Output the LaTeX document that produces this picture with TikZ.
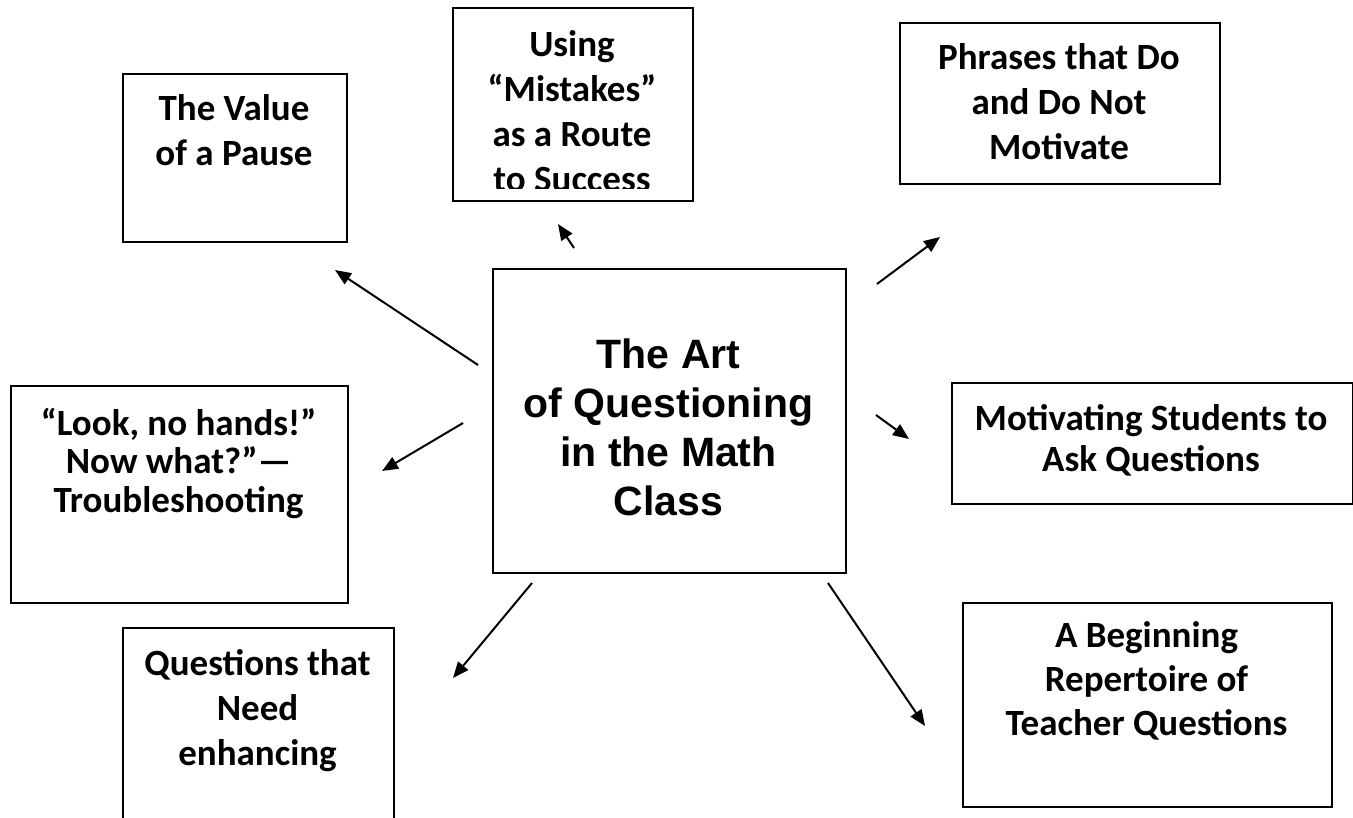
\documentclass[tikz,border=0pt]{standalone}
\usepackage{fontspec}
\setmainfont{Carlito}
\newfontfamily\arialfont{Liberation Sans}
\usetikzlibrary{arrows.meta}
\newcommand\calfont{\fontsize{37pt}{45pt}\selectfont\bfseries}
\newcommand\topstrut{\rule{0pt}{0.8em}}
\begin{document}
\begin{tikzpicture}[x=1pt,y=-1pt,
  box/.style={draw, line width=1.8pt, inner sep=0pt, anchor=north west},
  lbl/.style={anchor=north, inner sep=0pt, align=center, font=\calfont},
  conn/.style={line width=2pt, -{Triangle[length=16pt,width=13pt]}}]
\useasboundingbox (0,0) rectangle (1353,818);
\clip (0,0) rectangle (1353,818);
\fill[white] (0,0) rectangle (1353,818);

% boxes
\node[box, minimum width=224pt, minimum height=168pt] (value) at (122,73) {};
\node[box, minimum width=240pt, minimum height=193pt] (mistakes) at (452,7) {};
\node[box, minimum width=320pt, minimum height=161pt] (phrases) at (899,22) {};
\node[box, minimum width=353pt, minimum height=304pt] (art) at (492,268) {};
\node[box, minimum width=401pt, minimum height=121pt] (motiv) at (951,382) {};
\node[box, minimum width=337pt, minimum height=217pt] (look) at (10,385) {};
\node[box, minimum width=271pt, minimum height=203pt] (quest) at (122,627) {};
\node[box, minimum width=369pt, minimum height=204pt] (begin) at (962,602) {};

% texts
\node[lbl] (valuet) at (234,90.4) {\topstrut The Value\\of a Pause};
\begin{scope}
\clip (452,7) rectangle (692,189);
\node[lbl] (mistakest) at (572,26.4) {\topstrut Using\\“Mistakes”\\as a Route\\to Success};
\end{scope}
\node[lbl] (phrasest) at (1059,39.4) {\topstrut Phrases that Do\\and Do Not\\Motivate};
\node[lbl, font={\fontsize{37pt}{41pt}\selectfont\bfseries}] (motivt) at (1151,400.4) {\topstrut Motivating Students to\\Ask Questions};
\node[lbl, font={\fontsize{37pt}{38.5pt}\selectfont\bfseries}] (lookt) at (178.5,405.4) {\topstrut “Look, no hands!”\\Now what?”—\\Troubleshooting};
\node[lbl] (questt) at (257.5,645.4) {\topstrut Questions that\\Need\\enhancing};
\node[lbl, font={\fontsize{37pt}{44pt}\selectfont\bfseries}] (begint) at (1146.5,617.4) {\topstrut A Beginning\\Repertoire of\\Teacher Questions};
\node[lbl, font={\arialfont\fontsize{41pt}{49pt}\selectfont\bfseries}] (artt) at (668.5,335.2) {\topstrut The Art\\of Questioning\\in the Math\\Class};

% arrow end points
\coordinate (a1s) at (478,365); \coordinate (a1e) at (335,270);
\coordinate (a2s) at (574,248); \coordinate (a2e) at (558,224);
\coordinate (a3s) at (877,284); \coordinate (a3e) at (940,237);
\coordinate (a4s) at (876,415); \coordinate (a4e) at (909,439);
\coordinate (a5s) at (463,423); \coordinate (a5e) at (382,471);
\coordinate (a6s) at (532,583); \coordinate (a6e) at (453,678);
\coordinate (a7s) at (828,583); \coordinate (a7e) at (925,726);

\draw[conn] (a1s) -- (a1e);
\draw[conn] (a2s) -- (a2e);
\draw[conn] (a3s) -- (a3e);
\draw[conn] (a4s) -- (a4e);
\draw[conn] (a5s) -- (a5e);
\draw[conn] (a6s) -- (a6e);
\draw[conn] (a7s) -- (a7e);
\end{tikzpicture}
\end{document}
